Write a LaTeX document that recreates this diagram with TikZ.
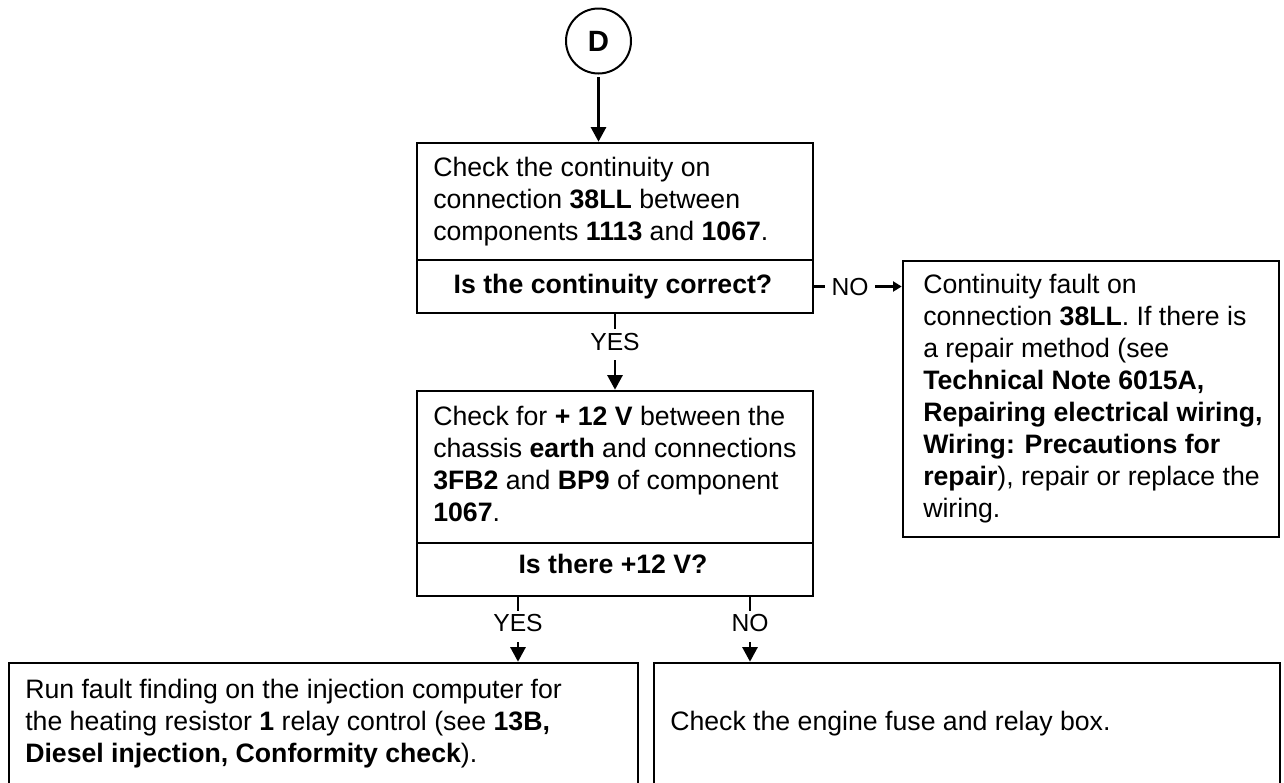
\documentclass[tikz,border=0pt]{standalone}
\usepackage{fontspec}
\setmainfont{Liberation Sans}
\usetikzlibrary{arrows.meta,fit}
\begin{document}
\begin{tikzpicture}[x=0.75pt,y=-0.75pt,
  box/.style={draw, line width=2pt, rectangle, inner sep=0pt},
  txt/.style={anchor=base west, align=left, inner sep=0pt, font=\fontsize{20}{24}\selectfont},
  qtxt/.style={anchor=base, inner sep=0pt, font=\fontsize{20}{24}\selectfont\bfseries},
  conn/.style={line width=1.6pt},
  bigarrow/.style={-{Triangle[length=11pt,width=11.5pt]}},
  smallarrow/.style={-{Triangle[length=6.5pt,width=7.5pt]}},
  vlbl/.style={anchor=base, fill=white, font=\fontsize{18.5}{22}\selectfont, text height=13.5pt, text depth=5.5pt, inner xsep=2pt, inner ysep=2pt},
  hlbl/.style={anchor=center, fill=white, font=\fontsize{18.5}{22}\selectfont, text height=13.5pt, text depth=0pt, inner xsep=5pt, inner ysep=2pt},
  circ/.style={draw, circle, line width=1.5pt, minimum size=48.75pt, inner sep=0pt, font=\fontsize{22}{26}\selectfont\bfseries}
]
\path[fill=white, use as bounding box] (0,0) rectangle (1284,782);

% start
\node[circ] (d) at (598.5,41) {D};

% boxes
\node[box, fit={(417,143) (813,260)}] (b1) {};
\node[box, fit={(417,260) (813,313)}] (q1) {};
\node[box, fit={(417,391) (813,543)}] (b2) {};
\node[box, fit={(417,543) (813,596)}] (q2) {};
\node[box, fit={(903,261) (1279,537)}] (b5) {};
\node[box, fit={(9,663) (638,800)}] (b3) {};
\node[box, fit={(654,663) (1280,800)}] (b4) {};

% question texts
\node[qtxt] (qt1) at (613,293) {Is the continuity correct?};
\node[qtxt] (qt2) at (613,573) {Is there +12 V?};

% texts (anchor = baseline of the last line)
\node[txt] (t1) at (433,240) {Check the continuity on\\connection \textbf{38LL} between\\components \textbf{1113} and \textbf{1067}.};
\node[txt] (t2) at (433,521) {Check for \textbf{+ 12 V} between the\\chassis \textbf{earth} and connections\\\textbf{3FB2} and \textbf{BP9} of component\\\textbf{1067}.};
\node[txt] (t5) at (923,517) {Continuity fault on\\connection \textbf{38LL}. If there is\\a repair method (see\\\textbf{Technical Note 6015A,}\\\textbf{Repairing electrical wiring,}\\\textbf{Wiring: Precautions for}\\\textbf{repair}), repair or replace the\\wiring.};
\node[txt] (t3) at (25,762) {Run fault finding on the injection computer for\\the heating resistor \textbf{1} relay control (see \textbf{13B,}\\\textbf{Diesel injection, Conformity check}).};
\node[txt] (t4) at (670,730) {Check the engine fuse and relay box.};

% connector helpers
\coordinate (yx) at (518,600);
\coordinate (nx) at (750,600);

% connectors
\draw[conn, bigarrow, shorten <=2pt] (d.south) -- (d.south |- b1.north);
\draw[conn, bigarrow] (q1.south) -- node[vlbl, pos=0.474] {YES} (b2.north);
\draw[conn, smallarrow] (q1.east) -- node[hlbl, pos=0.41] {NO} (q1.east -| b5.west);
\draw[conn, bigarrow] (q2.south -| yx) -- node[vlbl, pos=0.537] {YES} (b3.north -| yx);
\draw[conn, bigarrow] (q2.south -| nx) -- node[vlbl, pos=0.537] {NO} (b4.north -| nx);
\end{tikzpicture}
\end{document}
